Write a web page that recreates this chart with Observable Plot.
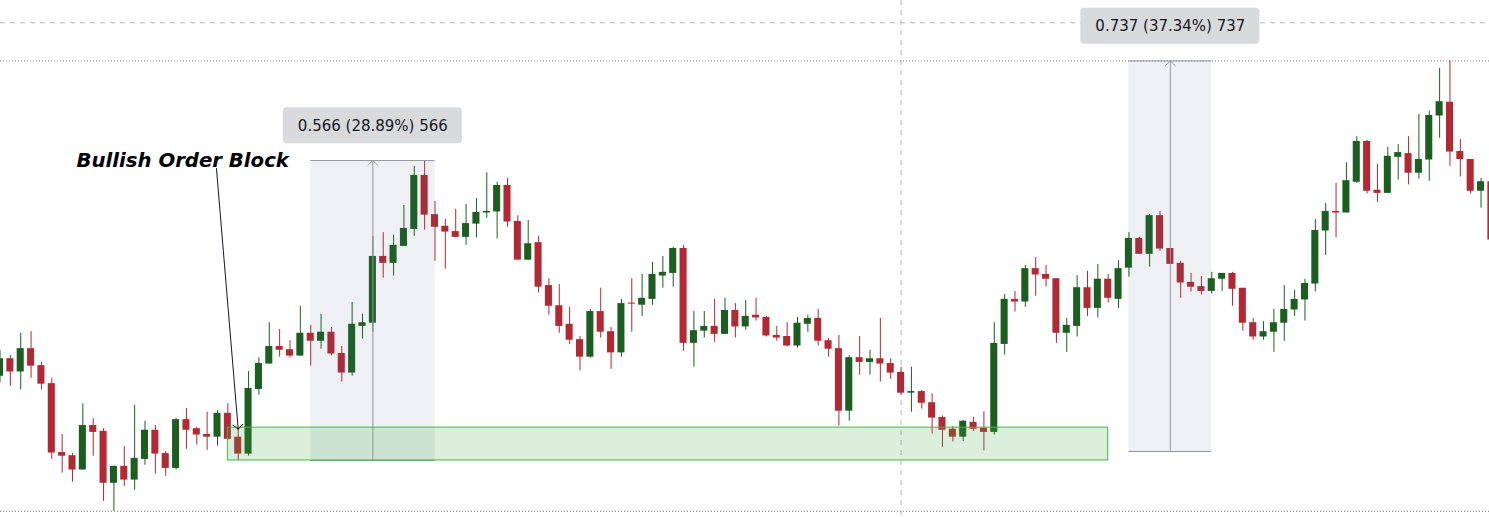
<!DOCTYPE html>
<html>
<head>
<meta charset="utf-8">
<script src="https://cdn.jsdelivr.net/npm/d3@7"></script>
<script src="https://cdn.jsdelivr.net/npm/@observablehq/plot@0.6"></script>
<style>
  html, body { margin: 0; padding: 0; background: #ffffff; }
  #chart svg { display: block; overflow: hidden; }
</style>
</head>
<body>
<div id="chart"></div>
<script>
// ---- OHLC series (one candle per bar, index = bar number) ----
const opens = [
  2.118, 2.151, 2.126, 2.170, 2.138, 2.104, 1.974, 1.968, 1.941, 2.025,
  2.014, 1.916, 1.948, 1.922, 1.961, 2.016, 1.972, 1.944, 2.036, 2.019,
  2.008, 2.003, 2.048, 2.003, 1.971, 2.093, 2.141, 2.174, 2.168, 2.156,
  2.199, 2.184, 2.201, 2.161, 2.124, 2.212, 2.218, 2.344, 2.331, 2.363,
  2.395, 2.497, 2.423, 2.401, 2.391, 2.380, 2.405, 2.426, 2.428, 2.478,
  2.410, 2.337, 2.370, 2.289, 2.251, 2.216, 2.187, 2.154, 2.240, 2.202,
  2.162, 2.256, 2.252, 2.263, 2.307, 2.312, 2.359, 2.180, 2.203, 2.212,
  2.197, 2.242, 2.211, 2.233, 2.229, 2.195, 2.193, 2.175, 2.216, 2.227,
  2.185, 2.170, 2.052, 2.153, 2.144, 2.151, 2.142, 2.125, 2.086, 2.089,
  2.068, 2.040, 2.018, 2.003, 2.031, 2.020, 2.012, 2.178, 2.263, 2.258,
  2.321, 2.310, 2.302, 2.199, 2.212, 2.285, 2.246, 2.301, 2.263, 2.322,
  2.378, 2.348, 2.421, 2.359, 2.331, 2.295, 2.287, 2.278, 2.301, 2.312,
  2.284, 2.219, 2.192, 2.201, 2.218, 2.243, 2.262, 2.292, 2.392, 2.429,
  2.426, 2.484, 2.561, 2.469, 2.463, 2.531, 2.538, 2.501, 2.526, 2.609,
  2.635, 2.542, 2.527, 2.467, 2.485
];
const highs = [
  2.167, 2.157, 2.199, 2.202, 2.144, 2.114, 2.008, 1.972, 2.066, 2.038,
  2.019, 1.948, 1.985, 2.063, 2.033, 2.025, 1.976, 2.038, 2.057, 2.022,
  2.050, 2.053, 2.066, 2.018, 2.127, 2.153, 2.219, 2.206, 2.185, 2.250,
  2.214, 2.235, 2.210, 2.174, 2.257, 2.235, 2.382, 2.389, 2.384, 2.440,
  2.514, 2.525, 2.448, 2.414, 2.433, 2.442, 2.453, 2.502, 2.484, 2.491,
  2.421, 2.412, 2.382, 2.302, 2.291, 2.248, 2.193, 2.244, 2.284, 2.210,
  2.263, 2.302, 2.310, 2.333, 2.344, 2.361, 2.365, 2.240, 2.240, 2.263,
  2.265, 2.255, 2.261, 2.265, 2.231, 2.212, 2.219, 2.229, 2.233, 2.244,
  2.189, 2.195, 2.157, 2.193, 2.167, 2.227, 2.151, 2.135, 2.135, 2.091,
  2.085, 2.043, 2.023, 2.035, 2.040, 2.051, 2.219, 2.272, 2.278, 2.327,
  2.342, 2.327, 2.302, 2.227, 2.308, 2.316, 2.329, 2.310, 2.336, 2.389,
  2.380, 2.423, 2.429, 2.359, 2.335, 2.312, 2.306, 2.314, 2.312, 2.314,
  2.284, 2.227, 2.221, 2.244, 2.289, 2.280, 2.301, 2.414, 2.444, 2.482,
  2.521, 2.570, 2.563, 2.518, 2.550, 2.555, 2.570, 2.612, 2.618, 2.699,
  2.713, 2.565, 2.527, 2.491, 2.485
];
const lows = [
  2.106, 2.099, 2.092, 2.114, 2.092, 1.961, 1.935, 1.918, 1.941, 1.967,
  1.882, 1.863, 1.910, 1.903, 1.950, 1.933, 1.929, 1.941, 1.980, 1.988,
  1.978, 1.986, 1.997, 1.959, 1.967, 2.082, 2.141, 2.154, 2.152, 2.156,
  2.137, 2.169, 2.156, 2.107, 2.118, 2.188, 2.201, 2.303, 2.307, 2.363,
  2.382, 2.394, 2.335, 2.320, 2.379, 2.365, 2.379, 2.416, 2.377, 2.399,
  2.337, 2.337, 2.275, 2.233, 2.199, 2.178, 2.128, 2.152, 2.190, 2.131,
  2.154, 2.201, 2.231, 2.252, 2.284, 2.286, 2.165, 2.135, 2.190, 2.182,
  2.197, 2.190, 2.205, 2.222, 2.192, 2.184, 2.173, 2.171, 2.201, 2.175,
  2.154, 2.024, 2.033, 2.120, 2.120, 2.107, 2.112, 2.082, 2.050, 2.056,
  2.009, 1.984, 1.994, 1.995, 2.014, 1.977, 2.007, 2.158, 2.239, 2.248,
  2.269, 2.286, 2.180, 2.163, 2.192, 2.231, 2.228, 2.256, 2.246, 2.305,
  2.348, 2.324, 2.354, 2.329, 2.265, 2.277, 2.271, 2.273, 2.278, 2.250,
  2.203, 2.186, 2.186, 2.163, 2.184, 2.231, 2.222, 2.277, 2.346, 2.379,
  2.426, 2.482, 2.462, 2.446, 2.463, 2.488, 2.479, 2.490, 2.486, 2.567,
  2.514, 2.494, 2.462, 2.435, 2.373
];
const closes = [
  2.151, 2.126, 2.170, 2.137, 2.103, 1.973, 1.967, 1.941, 2.025, 2.012,
  1.916, 1.948, 1.922, 1.963, 2.016, 1.971, 1.944, 2.036, 2.016, 2.007,
  2.003, 2.048, 1.999, 1.971, 2.095, 2.142, 2.174, 2.167, 2.156, 2.199,
  2.184, 2.201, 2.160, 2.124, 2.216, 2.219, 2.344, 2.331, 2.365, 2.397,
  2.497, 2.422, 2.399, 2.390, 2.380, 2.406, 2.427, 2.429, 2.478, 2.409,
  2.337, 2.368, 2.286, 2.250, 2.212, 2.186, 2.154, 2.240, 2.201, 2.162,
  2.255, 2.254, 2.265, 2.310, 2.314, 2.359, 2.180, 2.204, 2.212, 2.197,
  2.242, 2.211, 2.231, 2.228, 2.194, 2.190, 2.175, 2.218, 2.227, 2.184,
  2.169, 2.052, 2.153, 2.144, 2.151, 2.141, 2.124, 2.086, 2.089, 2.067,
  2.039, 2.016, 2.003, 2.033, 2.018, 2.012, 2.180, 2.263, 2.258, 2.321,
  2.309, 2.301, 2.199, 2.214, 2.285, 2.246, 2.301, 2.265, 2.321, 2.378,
  2.348, 2.421, 2.358, 2.329, 2.294, 2.286, 2.278, 2.302, 2.312, 2.282,
  2.218, 2.192, 2.202, 2.219, 2.244, 2.263, 2.293, 2.393, 2.429, 2.426,
  2.487, 2.561, 2.467, 2.463, 2.533, 2.540, 2.501, 2.527, 2.610, 2.636,
  2.541, 2.527, 2.467, 2.485, 2.375
];

// ---- price-range measurements (bar indices and prices) ----
const measureStart  = [30, 109];
const measureEnd    = [42, 117];
const measureFrom   = [1.959, 1.976];
const measureTo     = [2.525, 2.713];
const measureLabels = ["0.566 (28.89%) 566", "0.737 (37.34%) 737"];

// ---- order block zone ----
const blockStart = [22];
const blockEnd   = [107];
const blockLow   = [1.959];
const blockHigh  = [2.021];

// ---- annotation ----
const noteText   = ["Bullish Order Block"];
const noteIndex  = [7.39];
const notePrice  = [2.512];
const noteTarget = [{fromI: 20.9, fromP: 2.510, toI: 23, toP: 2.018}];

// ---- reference lines ----
const rangeLines     = [2.713, 1.863];   // session high / low
const crosshairIndex = [87];
const crosshairPrice = [2.785];

// ---- build tables ----
const GREEN = "#1b5e20", RED = "#b22833";
const candles = opens.map((o, i) => {
  const c = closes[i];
  let b1 = Math.min(o, c), b2 = Math.max(o, c);
  if (b2 - b1 < 0.0019) { const m = (b1 + b2) / 2; b1 = m - 0.00095; b2 = m + 0.00095; }
  return {i, open: o, high: highs[i], low: lows[i], close: c, b1, b2, color: c >= o ? GREEN : RED};
});
const measures = measureStart.map((s, k) => ({
  s, e: measureEnd[k], mid: (s + measureEnd[k]) / 2,
  from: measureFrom[k], to: measureTo[k], label: measureLabels[k]
}));
const blocks = blockStart.map((s, k) => ({s, e: blockEnd[k], lo: blockLow[k], hi: blockHigh[k]}));
const notes = noteText.map((t, k) => ({t, x: noteIndex[k], y: notePrice[k]}));

const spacing = 10.357;
const x0 = 0.5 / spacing;
const chart = Plot.plot({
  width: 1489,
  height: 517,
  margin: 0,
  style: {background: "#ffffff", fontFamily: "DejaVu Sans"},
  x: {domain: [x0, x0 + 1489 / spacing], axis: null},
  y: {domain: [1.8514, 2.827], axis: null},
  marks: [
    // crosshair
    Plot.ruleX(crosshairIndex, {stroke: "#b2b5be", strokeDasharray: "5,5", strokeWidth: 1}),
    Plot.ruleY(crosshairPrice, {stroke: "#b2b5be", strokeDasharray: "5,5", strokeWidth: 1}),
    // high / low dotted lines
    Plot.ruleY(rangeLines, {stroke: "#787b86", strokeDasharray: "1,2", strokeWidth: 1}),
    // candles
    Plot.ruleX(candles, {x: "i", y1: "low", y2: "high", stroke: "color", strokeWidth: 1}),
    Plot.rect(candles, {x1: d => d.i - 0.34, x2: d => d.i + 0.34, y1: "b1", y2: "b2", fill: "color"}),
    // measurement boxes
    Plot.rect(measures, {x1: "s", x2: "e", y1: "from", y2: "to", fill: "#5d6b8a", fillOpacity: 0.1}),
    Plot.ruleY(measures, {x1: "s", x2: "e", y: "to", stroke: "#9598a1", strokeWidth: 1}),
    Plot.ruleY(measures, {x1: "s", x2: "e", y: "from", stroke: "#9598a1", strokeWidth: 1}),
    Plot.arrow(measures, {x1: "mid", x2: "mid", y1: "from", y2: "to", stroke: "#9598a1", strokeWidth: 1, headAngle: 92, headLength: 10}),
    // order block zone
    Plot.rect(blocks, {x1: "s", x2: "e", y1: "lo", y2: "hi", fill: "#4caf50", fillOpacity: 0.2, stroke: "#4caf50", strokeWidth: 1}),
    // measurement labels
    Plot.rect(measures, {x1: "mid", x2: "mid", y1: "to", y2: "to", fill: "#d9dadc", rx: 4,
      insetLeft: -89.5, insetRight: -89.5, insetTop: -52.7, insetBottom: 16.7}),
    Plot.text(measures, {x: "mid", y: "to", text: "label", dy: -34.7, fontSize: 15, fill: "#131722", fontFamily: "DejaVu Sans"}),
    // annotation
    Plot.arrow(noteTarget, {x1: "fromI", y1: "fromP", x2: "toI", y2: "toP", stroke: "#131722", strokeWidth: 1, headAngle: 95, headLength: 10}),
    Plot.text(notes, {x: "x", y: "y", text: "t", textAnchor: "start", lineAnchor: "bottom", fontSize: 19.7,
      fontWeight: "bold", fontStyle: "italic", fill: "#000000", fontFamily: "DejaVu Sans"})
  ]
});
document.getElementById("chart").appendChild(chart);
</script>
</body>
</html>
